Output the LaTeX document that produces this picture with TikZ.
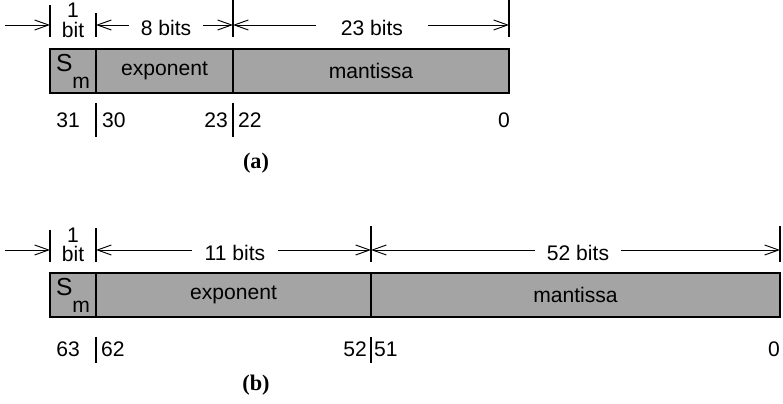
\documentclass[tikz,border=0pt]{standalone}
\usepackage{fontspec}
\setmainfont{Liberation Serif}
\setsansfont{Liberation Sans}
\usetikzlibrary{arrows.meta, positioning}
\definecolor{FieldGray}{HTML}{A4A4A4}
\newcommand{\signlabel}{{\fontsize{21}{22}\selectfont S}\raisebox{-0.8em}{m}}
\tikzset{
    % bit fields of the word
    field/.style={
        rectangle,
        draw=black,
        fill=FieldGray,
        line width=1.2pt,
        minimum height=1.32cm,
        inner sep=0pt,
        outer sep=0pt,
        font=\sffamily\fontsize{18}{20}\selectfont
    },
    % width labels above the word
    dimlabel/.style={
        inner ysep=0pt,
        inner xsep=0.36cm,
        align=center,
        font=\sffamily\fontsize{18}{16.5}\selectfont
    },
    bitnum/.style={
        inner sep=0pt,
        font=\sffamily\fontsize{18}{20}\selectfont
    },
    caption/.style={
        inner sep=0pt,
        font=\bfseries\fontsize{19}{21}\selectfont
    },
    % arrows and ticks
    dimarrow/.style={
        -{Straight Barb[length=4.2mm, width=3mm]},
        line width=0.8pt
    },
    tickline/.style={
        line width=1pt
    }
}
\begin{document}
\begin{tikzpicture}[x=0.03cm, y=-0.03cm]
    \useasboundingbox (0,0) rectangle (783,404);

    % (a) single precision
    \node[field, minimum width=1.38cm, anchor=north west] (sgnA) at (50,49) {\signlabel};
    \node[field, minimum width=4.11cm, right=0pt of sgnA] (expA) {exponent};
    \node[field, minimum width=8.28cm, right=0pt of expA] (manA) {mantissa};

    \draw[tickline] (50,5) -- (50,37);
    \draw[tickline] (96,13) -- (96,37);
    \draw[tickline] (233,0) -- (233,37);
    \draw[tickline] (509,0) -- (509,37);

    \coordinate (startA) at (5,25);
    \coordinate (tickA0) at (50,25);
    \coordinate (tickA1) at (96,25);
    \coordinate (tickA2) at (233,25);
    \coordinate (tickA3) at (509,25);

    \node[dimlabel, inner xsep=0pt] (oneA) at (73,20.5) {1\\bit};
    \node[dimlabel] (expwA) at (166,28) {8 bits};
    \node[dimlabel, inner xsep=0.75cm] (manwA) at (372,28) {23 bits};

    \draw[dimarrow] (startA) -- (tickA0);
    \draw[dimarrow] (expwA.west |- tickA1) -- (tickA1);
    \draw[dimarrow] (expwA.east |- tickA2) -- (tickA2);
    \draw[dimarrow] (manwA.west |- tickA2) -- (tickA2);
    \draw[dimarrow] (manwA.east |- tickA3) -- (tickA3);

    \node[bitnum, anchor=base east] (n31) at (80,128) {31};
    \node[bitnum, anchor=base west] (n30) at (102,128) {30};
    \node[bitnum, anchor=base east] (n23) at (228,128) {23};
    \node[bitnum, anchor=base west] (n22) at (238,128) {22};
    \node[bitnum, anchor=base east] (n0a) at (510,128) {0};
    \draw[tickline] (96,103) -- (96,137);
    \draw[tickline] (233,103) -- (233,137);

    \node[caption] (capA) at (256,163) {(a)};

    % (b) double precision
    \node[field, minimum width=1.38cm, anchor=north west] (sgnB) at (50,273) {\signlabel};
    \node[field, minimum width=8.25cm, right=0pt of sgnB] (expB) {exponent};
    \node[field, minimum width=12.27cm, right=0pt of expB] (manB) {mantissa};

    \draw[tickline] (50,230) -- (50,262);
    \draw[tickline] (96,228) -- (96,262);
    \draw[tickline] (371,226) -- (371,262);
    \draw[tickline] (780,226) -- (780,262);

    \coordinate (startB) at (5,250);
    \coordinate (tickB0) at (50,250);
    \coordinate (tickB1) at (96,250);
    \coordinate (tickB2) at (371,250);
    \coordinate (tickB3) at (780,250);

    \node[dimlabel, inner xsep=0pt] (oneB) at (73,245) {1\\bit};
    \node[dimlabel] (expwB) at (235,253) {11 bits};
    \node[dimlabel] (manwB) at (578,253) {52 bits};

    \draw[dimarrow] (startB) -- (tickB0);
    \draw[dimarrow] (expwB.west |- tickB1) -- (tickB1);
    \draw[dimarrow] (expwB.east |- tickB2) -- (tickB2);
    \draw[dimarrow] (manwB.west |- tickB2) -- (tickB2);
    \draw[dimarrow] (manwB.east |- tickB3) -- (tickB3);

    \node[bitnum, anchor=base east] (n63) at (80,357) {63};
    \node[bitnum, anchor=base west] (n62) at (101,357) {62};
    \node[bitnum, anchor=base east] (n52) at (367,357) {52};
    \node[bitnum, anchor=base west] (n51) at (374,357) {51};
    \node[bitnum, anchor=base east] (n0b) at (780,357) {0};
    \draw[tickline] (96,337) -- (96,363);
    \draw[tickline] (371,337) -- (371,363);

    \node[caption] (capB) at (256,385) {(b)};
\end{tikzpicture}
\end{document}
